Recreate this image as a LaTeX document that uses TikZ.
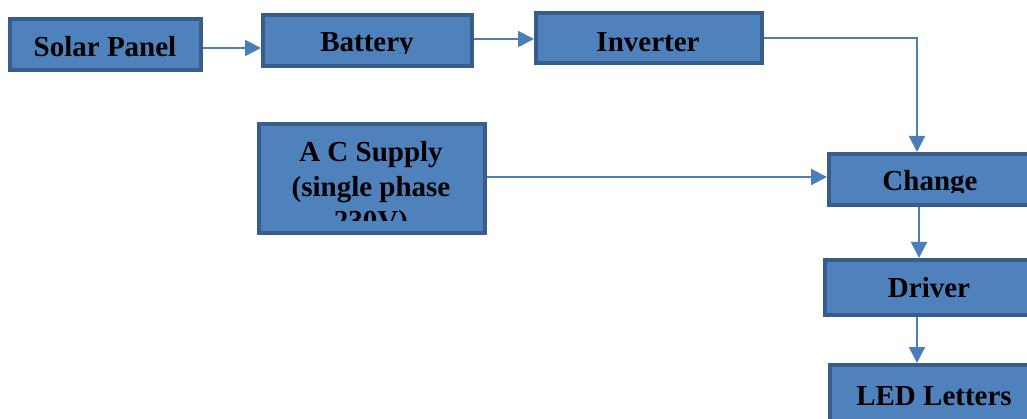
\documentclass[tikz,border=0pt]{standalone}
\usepackage{fontspec}
\setmainfont{Liberation Serif}
\usetikzlibrary{arrows.meta}
\definecolor{boxfill}{HTML}{4F81BD}
\definecolor{boxline}{HTML}{385D8A}
\definecolor{arrcol}{HTML}{4A7EBB}
\tikzset{
  blockbox/.style={draw=boxline, fill=boxfill, line width=4pt, rectangle, inner sep=0pt},
  lbl/.style={font=\bfseries\fontsize{29}{34}\selectfont, anchor=base, inner sep=0pt, text=black},
  arr/.style={draw=arrcol, line width=2pt, -{Triangle[length=16pt,width=16pt]}},
}
\begin{document}
\begin{tikzpicture}[x=1pt,y=-1pt]
\useasboundingbox (0,0) rectangle (1027,419);
\clip (0,0) rectangle (1027,419);
% boxes
\node[blockbox, minimum width=191pt, minimum height=51pt] (solar) at (105.5,44.5) {};
\node[blockbox, minimum width=209pt, minimum height=51pt] (battery) at (367.5,40.5) {};
\node[blockbox, minimum width=226pt, minimum height=50pt] (inverter) at (649,38) {};
\node[blockbox, minimum width=226pt, minimum height=109pt] (ac) at (372,178.5) {};
\node[blockbox, minimum width=202pt, minimum height=51pt] (change) at (930,179.5) {};
\node[blockbox, minimum width=208pt, minimum height=55pt] (driver) at (929,287.5) {};
\node[blockbox, minimum width=208pt, minimum height=58pt] (led) at (934,394) {};
% labels (clipped as in the reference)
\begin{scope}
\clip (10,19) rectangle (201,57.5);
\node[lbl] (tsolar) at (105,57) {Solar Panel};
\end{scope}
\begin{scope}
\clip (263,15) rectangle (472,54);
\node[lbl] (tbattery) at (367,52) {Battery};
\end{scope}
\node[lbl] (tinverter) at (648,52) {Inverter};
\begin{scope}
\clip (259,124) rectangle (485,221);
\node[lbl] (tac1) at (371,162) {A C Supply};
\node[lbl] (tac2) at (371,197) {(single phase};
\node[lbl] (tac3) at (371,231) {230V)};
\end{scope}
\begin{scope}
\clip (829,154) rectangle (1031,193);
\node[lbl] (tchange) at (930,191) {Change};
\end{scope}
\node[lbl] (tdriver) at (929,298) {Driver};
\node[lbl] (tled) at (934,405) {LED Letters};
% connectors
\draw[arr] (solar.east |- 0,48) -- (battery.west |- 0,48);
\draw[arr] (battery.east |- 0,39) -- (inverter.west |- 0,39);
\draw[arr] (inverter.east |- 0,38) -| (change.north -| 917,0);
\draw[arr] (ac.east |- 0,177) -- (change.west |- 0,177);
\draw[arr] (change.south -| 919,0) -- (driver.north -| 919,0);
\draw[arr] (driver.south -| 917,0) -- (led.north -| 917,0);
\end{tikzpicture}
\end{document}
